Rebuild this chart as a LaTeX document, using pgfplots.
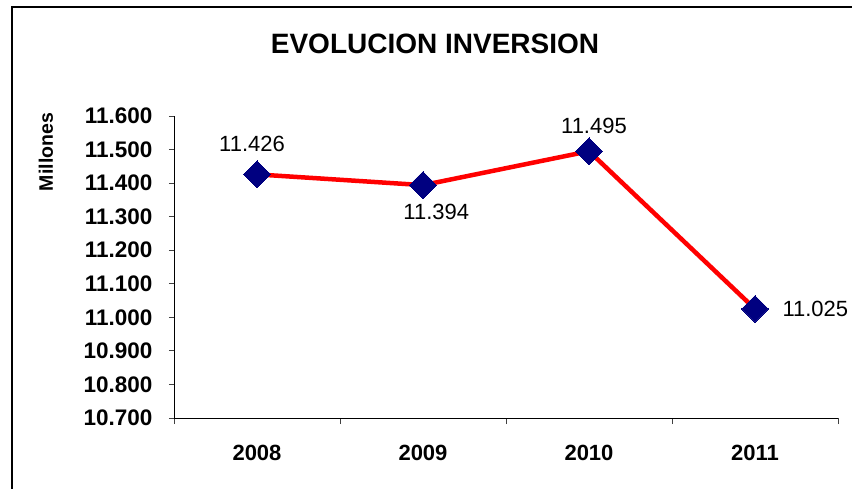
\documentclass[border=0pt]{standalone}
\usepackage{fontspec}
\setmainfont{Liberation Sans}
\usepackage{pgfplots}
\pgfplotsset{compat=1.18}
\definecolor{mknavy}{RGB}{0,0,128}
\begin{document}
\begin{tikzpicture}
\useasboundingbox (0pt,0pt) rectangle (852pt,488pt);
\fill[white] (0pt,0pt) rectangle (852pt,488pt);
\draw[black, line width=2pt] (11.5pt,-5pt) -- (11.5pt,480.5pt) -- (860pt,480.5pt);
\node[font=\fontsize{28}{34}\selectfont\bfseries] at (435pt,444pt) {EVOLUCION INVERSION};
\node[font=\fontsize{19.5}{23}\selectfont\bfseries, rotate=90] at (46pt,336pt) {Millones};
\begin{axis}[
  at={(174pt,70pt)}, anchor=south west,
  width=664pt, height=302pt, scale only axis,
  xmin=-0.5, xmax=3.5, ymin=10.7, ymax=11.6,
  axis lines=left, axis line style={-, black, line width=0.9pt},
  xtick={0,1,2,3}, xticklabels={2008,2009,2010,2011},
  major x tick style={draw=none},
  minor xtick={-0.5,0.5,1.5,2.5,3.5},
  ytick={10.7,10.8,10.9,11.0,11.1,11.2,11.3,11.4,11.5,11.6},
  tick align=outside,
  tick style={black!75, line width=0.9pt},
  major tick length=5pt, minor tick length=6pt,
  /pgf/number format/assume math mode=true,
  yticklabel style={font=\fontsize{22.5}{26}\selectfont\bfseries, xshift=-13pt},
  yticklabel={\pgfmathprintnumber[fixed, fixed zerofill, precision=3, use period]{\tick}},
  xticklabel style={font=\fontsize{22}{26}\selectfont\bfseries, yshift=-19pt},
  clip=false,
]
\addplot[red, line width=4.5pt, mark=square*, mark size=9.5pt,
  mark options={fill=mknavy, draw=mknavy, rotate=45, line width=0pt}]
  coordinates {(0,11.426) (1,11.394) (2,11.495) (3,11.025)};
\node[font=\fontsize{22}{26}\selectfont] at (axis cs:-0.03,11.426) [yshift=30pt] {11.426};
\node[font=\fontsize{22}{26}\selectfont] at (axis cs:1.08,11.394) [yshift=-27pt] {11.394};
\node[font=\fontsize{22}{26}\selectfont] at (axis cs:2.03,11.495) [yshift=25pt] {11.495};
\node[font=\fontsize{22}{26}\selectfont, anchor=west] at (axis cs:3,11.025) [xshift=24pt] {11.025};
\end{axis}
\end{tikzpicture}
\end{document}
